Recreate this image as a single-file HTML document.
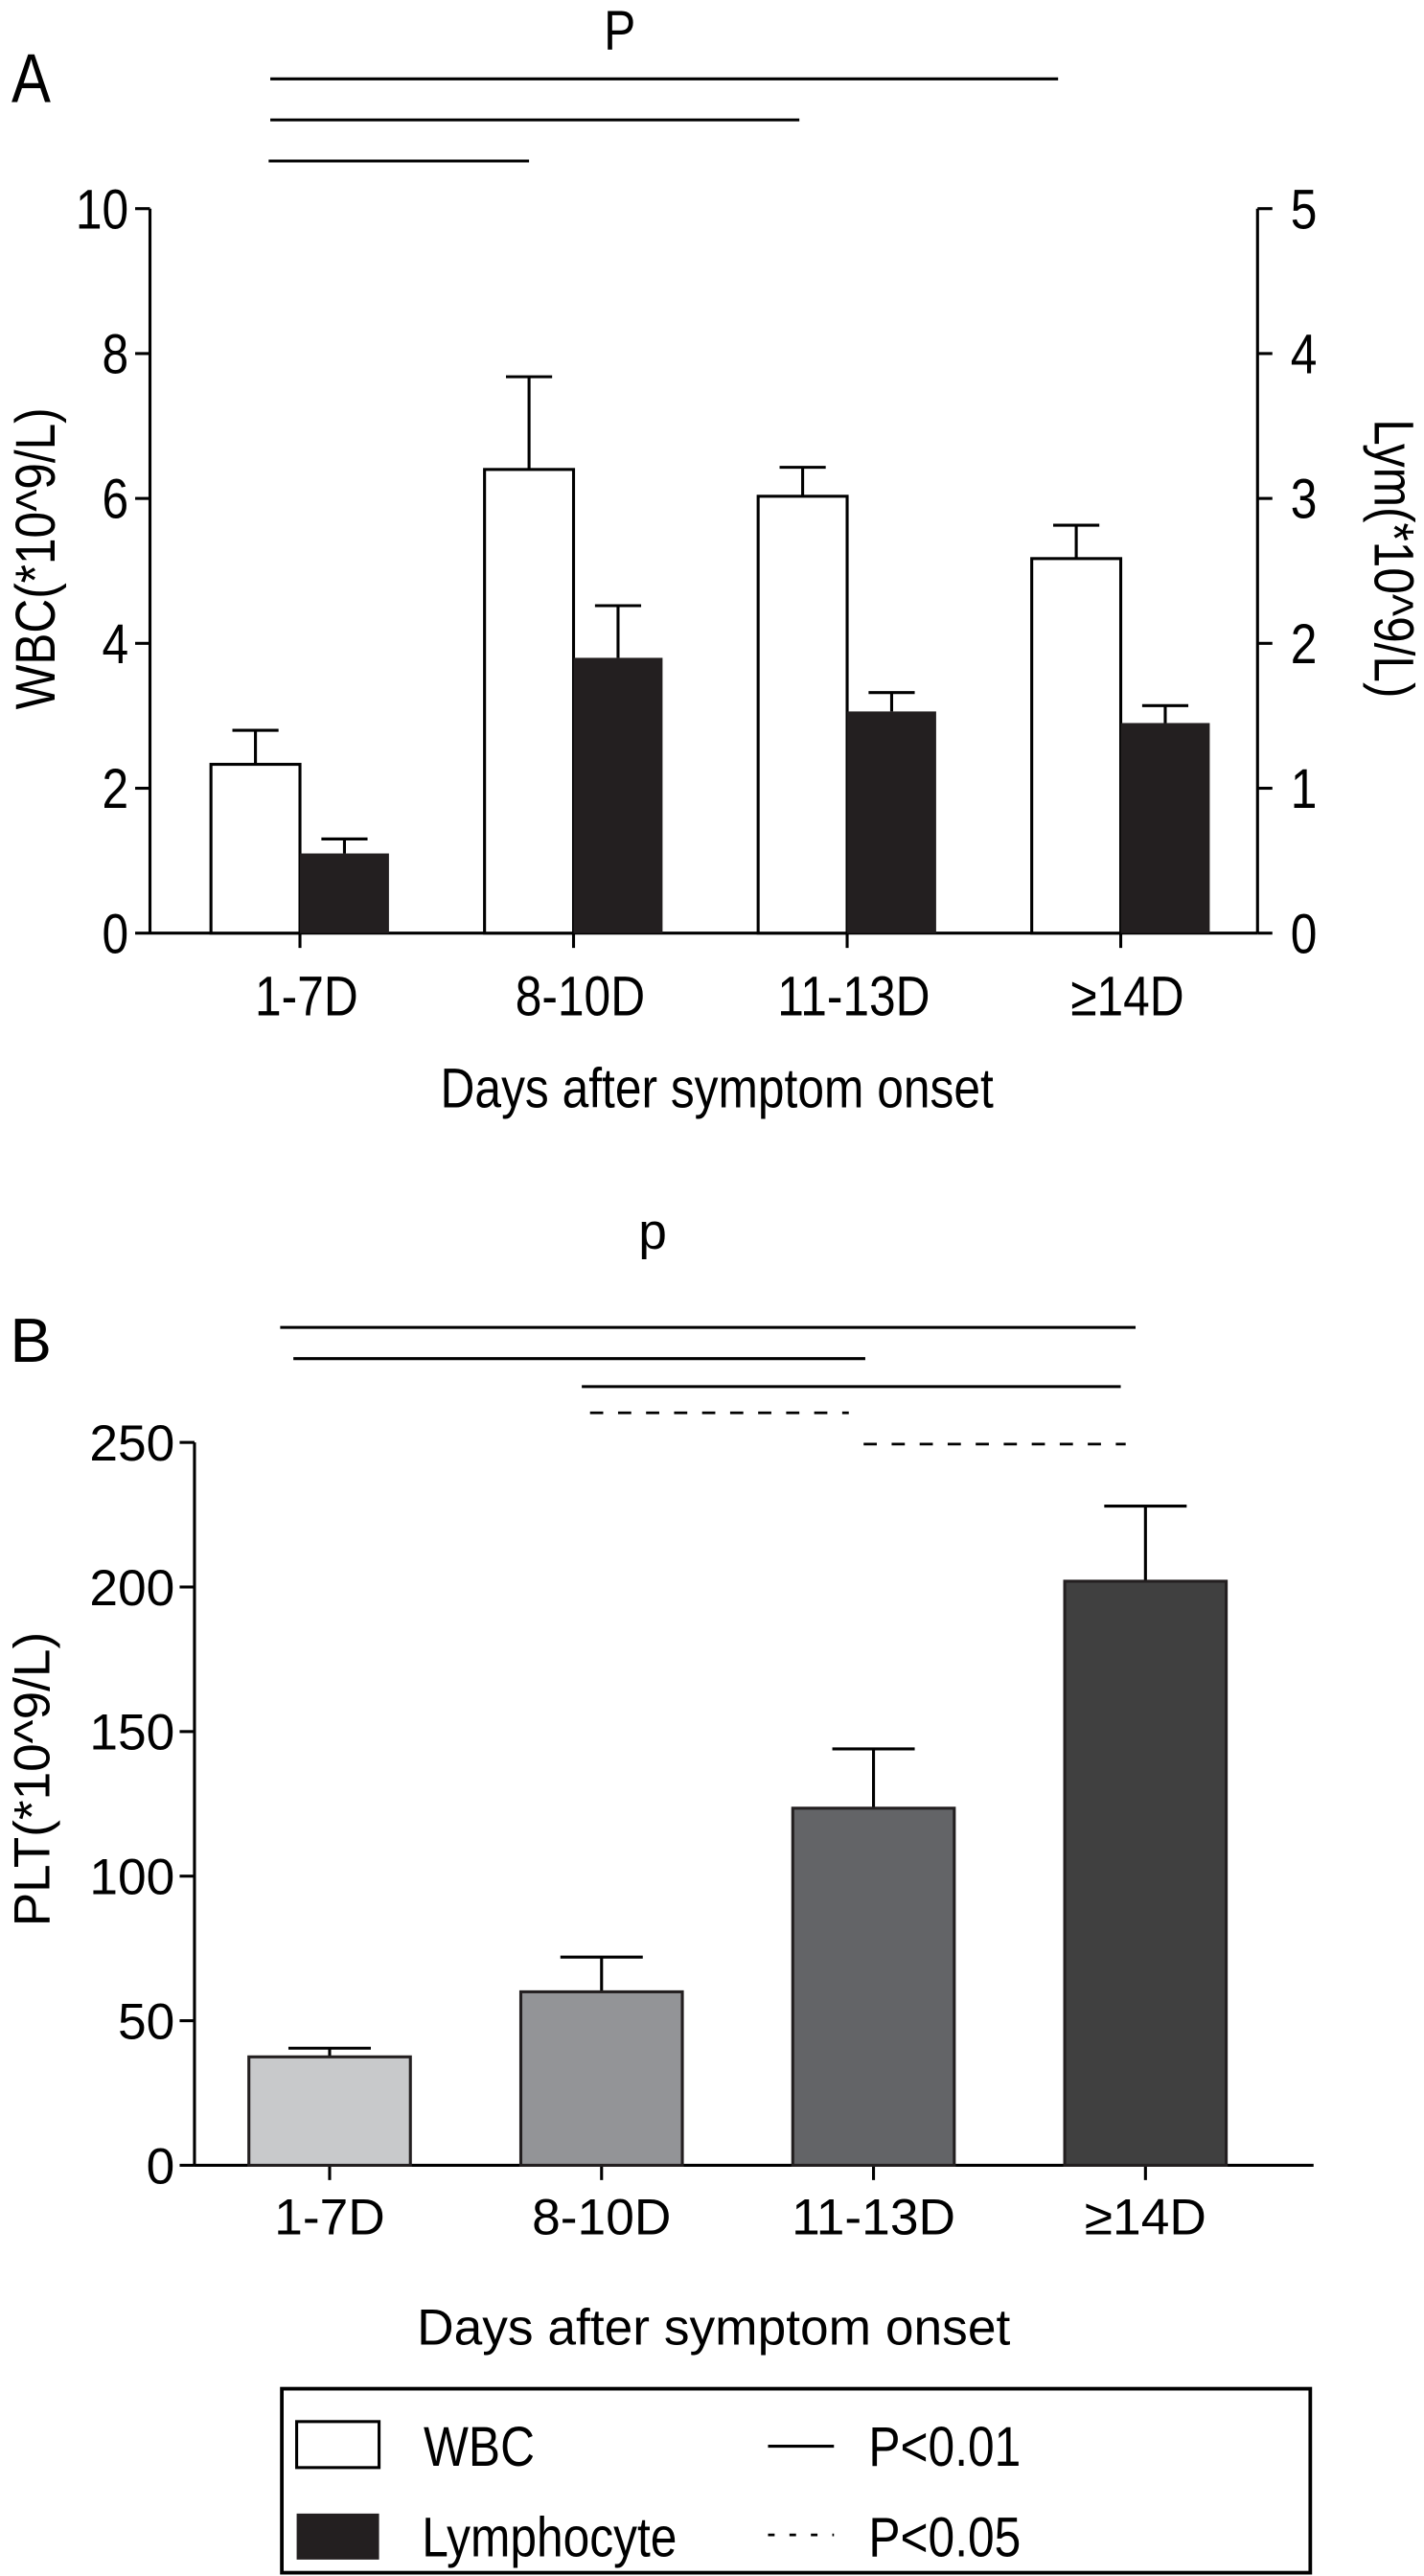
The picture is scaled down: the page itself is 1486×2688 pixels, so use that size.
<!DOCTYPE html>
<html><head><meta charset="utf-8">
<style>
html,body{margin:0;padding:0;background:#fff;}
svg{display:block;}
.s{font-family:"Liberation Sans",sans-serif;}
</style></head>
<body>
<svg id="fig" width="1486" height="2688" viewBox="0 0 864 1568" preserveAspectRatio="none" xmlns="http://www.w3.org/2000/svg">
<g id="pa"></g>
<g id="pb"></g>
<g id="lg"></g>
</svg>
<script>
const categories = ["1-7D","8-10D","11-13D","≥14D"];
const wbcValues = [2.33, 6.4, 6.03, 5.17];
const wbcErrors = [2.8, 7.68, 6.43, 5.63];
const lymValues = [0.55, 1.9, 1.53, 1.45];
const lymErrors = [0.65, 2.26, 1.66, 1.57];
const wbcTicks = [0,2,4,6,8,10];
const lymTicks = [0,1,2,3,4,5];
const pltValues = [37.5, 60, 123.5, 202];
const pltErrors = [40.5, 72, 144, 228];
const pltTicks = [0,50,100,150,200,250];
const pltColors = ["#c8c9cb","#939497","#636467","#404040"];

const NS="http://www.w3.org/2000/svg";
function mk(parent,tag,attrs,text){const e=document.createElementNS(NS,tag);for(const k in attrs)e.setAttribute(k,attrs[k]);if(text!==undefined)e.textContent=text;parent.appendChild(e);return e;}
function nt(parent,x,y,anchor,size,str,rot,sx){
  let tr='translate('+x+','+y+')';
  if(rot)tr+=' rotate('+rot+')';
  tr+=' scale('+(sx||0.85)+',1)';
  return mk(parent,'text',{x:0,y:0,'text-anchor':anchor,'font-size':size,class:'s',transform:tr},str);
}
const SW=1.8;
const FA=34;

// ---- Panel A ----
const pa=document.getElementById('pa');
const A={x0:91,x1:763,y0:568,y1:127};
const yA=v=>A.y0-(v/10)*(A.y0-A.y1);
const yL=v=>A.y0-(v/5)*(A.y0-A.y1);
const cxA=i=>182+i*166;
const bwA=54;
let e;
e=mk(pa,'line',{x1:A.x0,y1:A.y1,x2:A.x0,y2:A.y0,stroke:'#000','stroke-width':SW});

e=mk(pa,'line',{x1:A.x0,y1:A.y0,x2:A.x1,y2:A.y0,stroke:'#000','stroke-width':SW});

e=mk(pa,'line',{x1:A.x1,y1:A.y1,x2:A.x1,y2:A.y0,stroke:'#000','stroke-width':SW});

wbcTicks.forEach(t=>{
  mk(pa,'line',{x1:A.x0-9,y1:yA(t),x2:A.x0,y2:yA(t),stroke:'#000','stroke-width':SW});
  e=nt(pa,A.x0-13,yA(t)+12,'end',FA,String(t));
  
});
lymTicks.forEach(t=>{
  mk(pa,'line',{x1:A.x1,y1:yL(t),x2:A.x1+9,y2:yL(t),stroke:'#000','stroke-width':SW});
  e=nt(pa,A.x1+20,yL(t)+12,'start',FA,String(t));
  
});
categories.forEach((c,i)=>{
  const cx=cxA(i);
  mk(pa,'line',{x1:cx,y1:A.y0,x2:cx,y2:A.y0+9,stroke:'#000','stroke-width':SW});
  e=nt(pa,cx+4,618,'middle',FA,c);
  
  mk(pa,'line',{x1:cx-bwA/2,y1:yA(wbcErrors[i]),x2:cx-bwA/2,y2:yA(wbcValues[i]),stroke:'#000','stroke-width':SW});
  mk(pa,'line',{x1:cx-bwA/2-14,y1:yA(wbcErrors[i]),x2:cx-bwA/2+14,y2:yA(wbcErrors[i]),stroke:'#000','stroke-width':SW});
  e=mk(pa,'rect',{x:cx-bwA,y:yA(wbcValues[i]),width:bwA,height:A.y0-yA(wbcValues[i]),fill:'#fff',stroke:'#000','stroke-width':SW});
  
  mk(pa,'line',{x1:cx+bwA/2,y1:yL(lymErrors[i]),x2:cx+bwA/2,y2:yL(lymValues[i]),stroke:'#000','stroke-width':SW});
  mk(pa,'line',{x1:cx+bwA/2-14,y1:yL(lymErrors[i]),x2:cx+bwA/2+14,y2:yL(lymErrors[i]),stroke:'#000','stroke-width':SW});
  e=mk(pa,'rect',{x:cx,y:yL(lymValues[i]),width:bwA,height:A.y0-yL(lymValues[i]),fill:'#231f20'});
  
});
e=nt(pa,435,674,'middle',FA,'Days after symptom onset');

e=nt(pa,33,340,'middle',FA,'WBC(*10^9/L)',-90);

e=nt(pa,834,340,'middle',FA,'Lym(*10^9/L)',90);

e=nt(pa,7,62,'start',42,'A');

e=nt(pa,376,30,'middle',FA,'P');

[[48,164,642],[73,164,485],[98,163,321]].forEach(l=>{
  e=mk(pa,'line',{x1:l[1],y1:l[0],x2:l[2],y2:l[0],stroke:'#000','stroke-width':SW});
  
});

// ---- Panel B ----
const FB=31;
const pb=document.getElementById('pb');
const B={x0:118,x1:797,y0:1318,y1:878};
const yB=v=>B.y0-(v/250)*(B.y0-B.y1);
const cxB=i=>200+i*165;
const bwB=98;
e=mk(pb,'line',{x1:B.x0,y1:B.y1,x2:B.x0,y2:B.y0,stroke:'#000','stroke-width':SW});

e=mk(pb,'line',{x1:B.x0,y1:B.y0,x2:B.x1,y2:B.y0,stroke:'#000','stroke-width':SW});

pltTicks.forEach(t=>{
  mk(pb,'line',{x1:B.x0-9,y1:yB(t),x2:B.x0,y2:yB(t),stroke:'#000','stroke-width':SW});
  e=mk(pb,'text',{x:B.x0-12,y:yB(t)+11,'text-anchor':'end','font-size':FB,class:'s'},String(t));
  
});
categories.forEach((c,i)=>{
  const cx=cxB(i);
  mk(pb,'line',{x1:cx,y1:B.y0,x2:cx,y2:B.y0+9,stroke:'#000','stroke-width':SW});
  e=mk(pb,'text',{x:cx,y:1360,'text-anchor':'middle','font-size':FB,class:'s'},c);
  
  mk(pb,'line',{x1:cx,y1:yB(pltErrors[i]),x2:cx,y2:yB(pltValues[i]),stroke:'#000','stroke-width':SW});
  mk(pb,'line',{x1:cx-25,y1:yB(pltErrors[i]),x2:cx+25,y2:yB(pltErrors[i]),stroke:'#000','stroke-width':SW});
  e=mk(pb,'rect',{x:cx-bwB/2,y:yB(pltValues[i]),width:bwB,height:B.y0-yB(pltValues[i]),fill:pltColors[i],stroke:'#231f20','stroke-width':SW});
  
});
e=mk(pb,'text',{x:433,y:1427,'text-anchor':'middle','font-size':FB,class:'s'},'Days after symptom onset');

e=mk(pb,'text',{x:0,y:0,'text-anchor':'middle','font-size':FB,class:'s',transform:'translate(30,1083) rotate(-90)'},'PLT(*10^9/L)');

e=mk(pb,'text',{x:6,y:829,'font-size':38,class:'s'},'B');

e=mk(pb,'text',{x:396,y:760,'text-anchor':'middle','font-size':FB,class:'s'},'p');

[[808,170,689,0],[827,178,525,0],[844,353,680,0],[860,358,515,1],[879,524,683,1]].forEach(l=>{
  const a={x1:l[1],y1:l[0],x2:l[2],y2:l[0],stroke:'#000','stroke-width':SW};
  if(l[3]){a['stroke-dasharray']='8,9';a['stroke-width']=1.6;}
  e=mk(pb,'line',a);
  
});

// ---- Legend ----
const lg=document.getElementById('lg');
e=mk(lg,'rect',{x:171,y:1454,width:624,height:112,fill:'#fff',stroke:'#000','stroke-width':2.2});

e=mk(lg,'rect',{x:180,y:1474,width:50,height:28,fill:'#fff',stroke:'#000','stroke-width':1.8});

e=mk(lg,'rect',{x:180,y:1530,width:50,height:28,fill:'#231f20'});

e=nt(lg,257,1501,'start',FA,'WBC');

e=nt(lg,256,1556,'start',FA,'Lymphocyte');

e=mk(lg,'line',{x1:466,y1:1489,x2:506,y2:1489,stroke:'#000','stroke-width':SW});

e=mk(lg,'line',{x1:466,y1:1543,x2:506,y2:1543,stroke:'#000','stroke-width':1.6,'stroke-dasharray':'4,9'});

e=nt(lg,527,1501,'start',FA,'P<0.01');

e=nt(lg,527,1556,'start',FA,'P<0.05');

</script>
</body></html>
